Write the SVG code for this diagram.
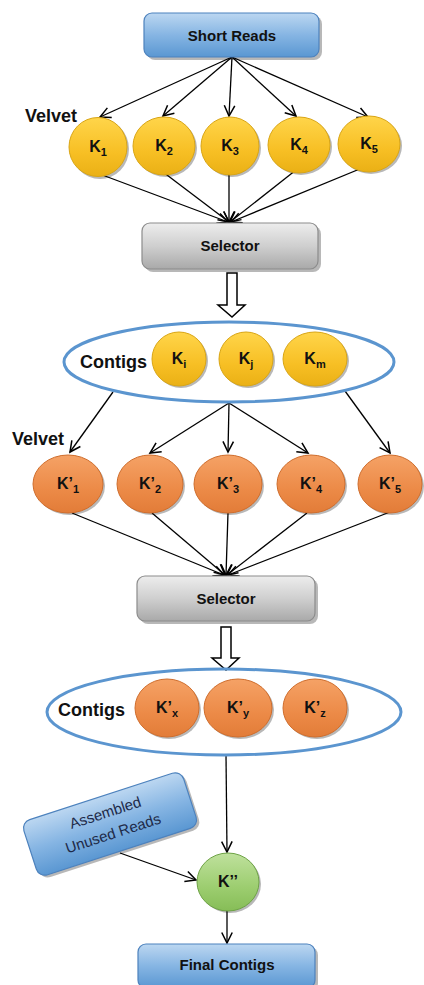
<svg xmlns="http://www.w3.org/2000/svg" width="424" height="985" viewBox="0 0 424 985">
<defs>
<linearGradient id="gBlue" x1="0" y1="0" x2="0" y2="1"><stop offset="0" stop-color="#bcd7f1"/><stop offset="0.5" stop-color="#86b5e3"/><stop offset="1" stop-color="#5a97d2"/></linearGradient>
<linearGradient id="gGray" x1="0" y1="0" x2="0" y2="1"><stop offset="0" stop-color="#ededed"/><stop offset="0.5" stop-color="#cfcfcf"/><stop offset="1" stop-color="#a9a9a9"/></linearGradient>
<linearGradient id="gYel" x1="0" y1="0" x2="0" y2="1"><stop offset="0" stop-color="#ffd54a"/><stop offset="0.6" stop-color="#f7bf24"/><stop offset="1" stop-color="#eab015"/></linearGradient>
<linearGradient id="gOra" x1="0" y1="0" x2="0" y2="1"><stop offset="0" stop-color="#f5a266"/><stop offset="0.6" stop-color="#ec8a47"/><stop offset="1" stop-color="#e27c38"/></linearGradient>
<linearGradient id="gGrn" x1="0" y1="0" x2="0" y2="1"><stop offset="0" stop-color="#bfe19d"/><stop offset="0.6" stop-color="#9ccd6f"/><stop offset="1" stop-color="#86bd57"/></linearGradient>
<marker id="arr" markerUnits="userSpaceOnUse" markerWidth="14" markerHeight="14" refX="10" refY="5" orient="auto" viewBox="0 0 12 10">
<path d="M1,0.5 L10,5 L1,9.5" fill="none" stroke="#000" stroke-width="1.3"/>
</marker>
</defs>
<style>
.lbl{font-family:"Liberation Sans",Arial,sans-serif;font-weight:bold;fill:#111;}
.box{stroke-width:1.2;}
.shadow{fill:#000;opacity:0.28;}
.con{stroke:#000;stroke-width:1.3;fill:none;}
.ell{fill:none;stroke:#5b95cf;stroke-width:3;}
.yc{fill:url(#gYel);stroke:#d9a514;stroke-width:1;}
.oc{fill:url(#gOra);stroke:#cf6d2c;stroke-width:1;}
.kl{font-size:16px;}
.sub{font-size:11px;}
</style>

<g id="connectors">
<path class="con" marker-end="url(#arr)" d="M232,57 L100,117"/>
<path class="con" marker-end="url(#arr)" d="M232,57 L163,116"/>
<path class="con" marker-end="url(#arr)" d="M232,57 L229,116"/>
<path class="con" marker-end="url(#arr)" d="M232,57 L296,116"/>
<path class="con" marker-end="url(#arr)" d="M232,57 L368,117"/>
<path class="con" marker-end="url(#arr)" d="M97,173 L228,222"/>
<path class="con" marker-end="url(#arr)" d="M163,172 L229,222"/>
<path class="con" marker-end="url(#arr)" d="M229,172 L229,222"/>
<path class="con" marker-end="url(#arr)" d="M296,170 L230,222"/>
<path class="con" marker-end="url(#arr)" d="M367,166 L231,222"/>
<path class="con" marker-end="url(#arr)" d="M113,392 L70,452"/>
<path class="con" marker-end="url(#arr)" d="M229,403 L150,453"/>
<path class="con" marker-end="url(#arr)" d="M229,403 L228,452"/>
<path class="con" marker-end="url(#arr)" d="M229,403 L308,453"/>
<path class="con" marker-end="url(#arr)" d="M345,391 L390,453"/>
<path class="con" marker-end="url(#arr)" d="M72,513 L224,575"/>
<path class="con" marker-end="url(#arr)" d="M152,513 L225,575"/>
<path class="con" marker-end="url(#arr)" d="M228,513 L226,575"/>
<path class="con" marker-end="url(#arr)" d="M307,513 L227,575"/>
<path class="con" marker-end="url(#arr)" d="M390,512 L228,575"/>
<path class="con" marker-end="url(#arr)" d="M226,755 L227,852"/>
<path class="con" marker-end="url(#arr)" d="M120,853 L196,880"/>
<path class="con" marker-end="url(#arr)" d="M227,910 L227,943"/>
<path fill="#fff" stroke="#000" stroke-width="1.5" d="M227,273 L237,273 L237,305 L245,305 L232,317 L218,305 L227,305 Z"/>
<path fill="#fff" stroke="#000" stroke-width="1.5" d="M221,627 L231,627 L231,658 L239,658 L226,670 L212,658 L221,658 Z"/>
</g>

<g id="short-reads">
<rect class="shadow" x="147" y="16" width="175" height="44" rx="8"/>
<rect class="box" x="144" y="13" width="175" height="44" rx="8" fill="url(#gBlue)" stroke="#4d82bd"/>
<text class="lbl" x="232" y="41" font-size="15" text-anchor="middle">Short Reads</text>
</g>

<g id="velvet-1"><text class="lbl" x="25" y="122" font-size="18">Velvet</text></g>

<g id="k1"><ellipse class="shadow" cx="100" cy="149" rx="29" ry="30"/><ellipse class="yc" cx="98" cy="147" rx="29" ry="29.5"/><text class="lbl kl" x="98" y="152" text-anchor="middle">K<tspan class="sub" dy="4">1</tspan></text></g>
<g id="k2"><ellipse class="shadow" cx="166" cy="148" rx="31" ry="29"/><ellipse class="yc" cx="164" cy="146" rx="31" ry="29"/><text class="lbl kl" x="164" y="151" text-anchor="middle">K<tspan class="sub" dy="4">2</tspan></text></g>
<g id="k3"><ellipse class="shadow" cx="232" cy="148" rx="29" ry="29"/><ellipse class="yc" cx="230" cy="146" rx="29" ry="29"/><text class="lbl kl" x="230" y="151" text-anchor="middle">K<tspan class="sub" dy="4">3</tspan></text></g>
<g id="k4"><ellipse class="shadow" cx="301" cy="147" rx="31" ry="28"/><ellipse class="yc" cx="299" cy="145" rx="31" ry="28"/><text class="lbl kl" x="299" y="150" text-anchor="middle">K<tspan class="sub" dy="4">4</tspan></text></g>
<g id="k5"><ellipse class="shadow" cx="371" cy="146" rx="31" ry="28"/><ellipse class="yc" cx="369" cy="144" rx="31" ry="28"/><text class="lbl kl" x="369" y="149" text-anchor="middle">K<tspan class="sub" dy="4">5</tspan></text></g>

<g id="selector-1">
<rect class="shadow" x="145" y="226" width="176" height="46" rx="8"/>
<rect class="box" x="142" y="223" width="176" height="46" rx="8" fill="url(#gGray)" stroke="#8c8c8c"/>
<text class="lbl" x="230" y="251" font-size="15" text-anchor="middle">Selector</text>
</g>

<g id="contigs-1">
<ellipse class="ell" cx="229" cy="362" rx="165" ry="40"/>
<text class="lbl" x="80" y="368" font-size="18">Contigs</text>
<g id="ki"><ellipse class="shadow" cx="181" cy="361" rx="27" ry="27"/><ellipse class="yc" cx="179" cy="359" rx="27" ry="27"/><text class="lbl kl" x="179" y="364" text-anchor="middle">K<tspan class="sub" dy="4">i</tspan></text></g>
<g id="kj"><ellipse class="shadow" cx="248" cy="361" rx="27" ry="27"/><ellipse class="yc" cx="246" cy="359" rx="27" ry="27"/><text class="lbl kl" x="246" y="364" text-anchor="middle">K<tspan class="sub" dy="4">j</tspan></text></g>
<g id="km"><ellipse class="shadow" cx="317" cy="361" rx="32" ry="27"/><ellipse class="yc" cx="315" cy="359" rx="32" ry="27"/><text class="lbl kl" x="315" y="364" text-anchor="middle">K<tspan class="sub" dy="4">m</tspan></text></g>
</g>

<g id="velvet-2"><text class="lbl" x="12" y="445" font-size="18">Velvet</text></g>

<g id="kp1"><ellipse class="shadow" cx="70" cy="486" rx="35" ry="29"/><ellipse class="oc" cx="68" cy="484" rx="35" ry="29"/><text class="lbl kl" x="68" y="489" text-anchor="middle">K’<tspan class="sub" dy="4">1</tspan></text></g>
<g id="kp2"><ellipse class="shadow" cx="152" cy="486" rx="33" ry="29"/><ellipse class="oc" cx="150" cy="484" rx="33" ry="29"/><text class="lbl kl" x="150" y="489" text-anchor="middle">K’<tspan class="sub" dy="4">2</tspan></text></g>
<g id="kp3"><ellipse class="shadow" cx="230" cy="486" rx="34" ry="29"/><ellipse class="oc" cx="228" cy="484" rx="34" ry="29"/><text class="lbl kl" x="228" y="489" text-anchor="middle">K’<tspan class="sub" dy="4">3</tspan></text></g>
<g id="kp4"><ellipse class="shadow" cx="313" cy="486" rx="34" ry="29"/><ellipse class="oc" cx="311" cy="484" rx="34" ry="29"/><text class="lbl kl" x="311" y="489" text-anchor="middle">K’<tspan class="sub" dy="4">4</tspan></text></g>
<g id="kp5"><ellipse class="shadow" cx="392" cy="486" rx="32" ry="29"/><ellipse class="oc" cx="390" cy="484" rx="32" ry="29"/><text class="lbl kl" x="390" y="489" text-anchor="middle">K’<tspan class="sub" dy="4">5</tspan></text></g>

<g id="selector-2">
<rect class="shadow" x="140" y="579" width="178" height="45" rx="8"/>
<rect class="box" x="137" y="576" width="178" height="45" rx="8" fill="url(#gGray)" stroke="#8c8c8c"/>
<text class="lbl" x="226" y="604" font-size="15" text-anchor="middle">Selector</text>
</g>

<g id="contigs-2">
<ellipse class="ell" cx="224" cy="712" rx="177" ry="43"/>
<text class="lbl" x="58" y="716" font-size="18">Contigs</text>
<g id="kpx"><ellipse class="shadow" cx="169" cy="710" rx="32" ry="29"/><ellipse class="oc" cx="167" cy="708" rx="32" ry="29"/><text class="lbl kl" x="167" y="713" text-anchor="middle">K’<tspan class="sub" dy="4">x</tspan></text></g>
<g id="kpy"><ellipse class="shadow" cx="240" cy="710" rx="34" ry="29"/><ellipse class="oc" cx="238" cy="708" rx="34" ry="29"/><text class="lbl kl" x="238" y="713" text-anchor="middle">K’<tspan class="sub" dy="4">y</tspan></text></g>
<g id="kpz"><ellipse class="shadow" cx="317" cy="710" rx="32" ry="29"/><ellipse class="oc" cx="315" cy="708" rx="32" ry="29"/><text class="lbl kl" x="315" y="713" text-anchor="middle">K’<tspan class="sub" dy="4">z</tspan></text></g>
</g>

<g id="assembled-unused" transform="translate(110,824) rotate(-18)">
<rect class="shadow" x="-82" y="-26" width="168" height="58" rx="9"/>
<rect class="box" x="-84" y="-29" width="168" height="58" rx="9" fill="url(#gBlue)" stroke="#4d82bd"/>
<text x="-1" y="-7" font-family="Liberation Sans, Arial, sans-serif" font-size="15" fill="#1e2a48" text-anchor="middle">Assembled</text>
<text x="0" y="15" font-family="Liberation Sans, Arial, sans-serif" font-size="15" fill="#1e2a48" text-anchor="middle">Unused Reads</text>
</g>

<g id="k-double-prime"><ellipse class="shadow" cx="230" cy="884" rx="31" ry="29"/><ellipse cx="228" cy="882" rx="31" ry="29" fill="url(#gGrn)" stroke="#6ea346" stroke-width="1"/><text class="lbl kl" x="228" y="887" text-anchor="middle">K’’</text></g>

<g id="final-contigs">
<rect class="shadow" x="141" y="947" width="177" height="44" rx="8"/>
<rect class="box" x="138" y="944" width="177" height="44" rx="8" fill="url(#gBlue)" stroke="#4d82bd"/>
<text class="lbl" x="227" y="970" font-size="15" text-anchor="middle">Final Contigs</text>
</g>
</svg>
